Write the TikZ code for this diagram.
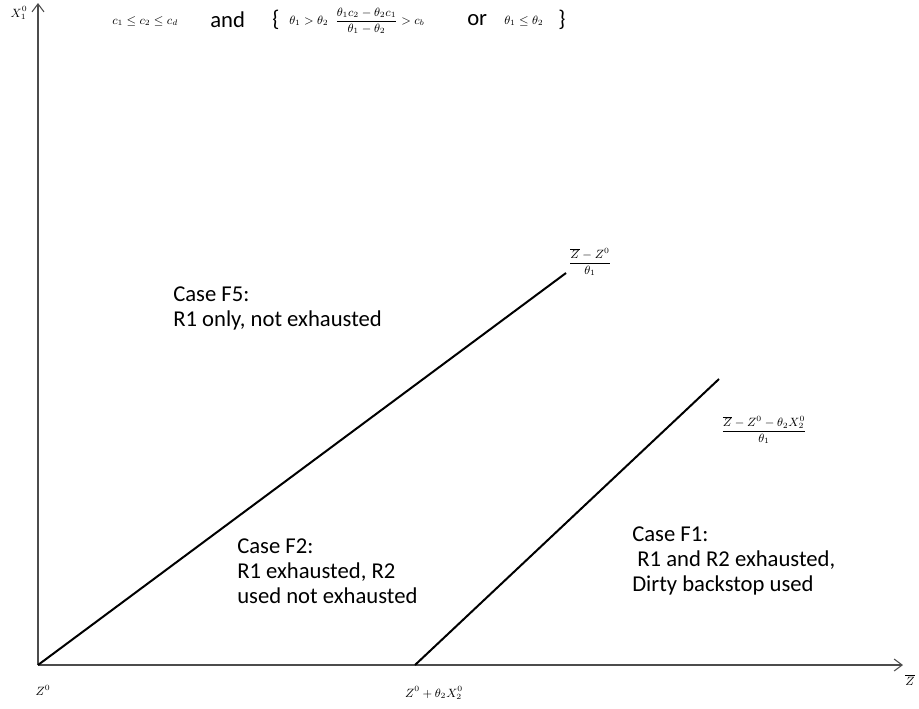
\documentclass[tikz,border=0pt]{standalone}
\usepackage{amsmath,amssymb}
\usepackage{fontspec}
\setmainfont{Carlito}
\usepackage{tikz}
\usetikzlibrary{arrows.meta}

\begin{document}
\begin{tikzpicture}[x=0.75pt,y=-0.75pt,
	every node/.style={font=\fontsize{17}{18.75}\selectfont, inner sep=0pt},
	mathlbl/.style={font=\fontsize{9}{10}\selectfont},
	axisline/.style={black!70, -{Straight Barb[length=6pt,width=9pt]}, line width=0.8pt},
	boundline/.style={black, line width=1.5pt},
	caselbl/.style={align=left, anchor=north west}]
	\useasboundingbox (0,0) rectangle (919,708);
	% axes
	\coordinate (origin) at (38,665);
	\coordinate (ytip) at (38,3);
	\coordinate (xtip) at (903,665);
	\draw[axisline] (origin) -- (ytip);
	\draw[axisline] (origin) -- (xtip);
	\node[mathlbl] (ylbl) at (19,13) {$X_1^0$};
	\node[mathlbl] (xlbl) at (910,680) {$\overline{Z}$};
	\node[mathlbl] (zlbl) at (43,690) {$Z^0$};
	% boundaries
	\coordinate (shift) at (415,665);
	\coordinate (topA) at (566,273);
	\coordinate (topB) at (719,379);
	\draw[boundline] (origin) -- (topA);
	\draw[boundline] (shift) -- (topB);
	\node[mathlbl] (shiftlbl) at (434,693) {$Z^0+\theta_2X_2^0$};
	\node[mathlbl] (topAlbl) at (590,262) {$\dfrac{\overline{Z}-Z^0}{\theta_1}$};
	\node[mathlbl] (topBlbl) at (764,430) {$\dfrac{\overline{Z}-Z^0-\theta_2X_2^0}{\theta_1}$};
	% condition
	\node[mathlbl, anchor=west] (cond1) at (112,21) {$c_1\le c_2\le c_d$};
	\node[anchor=west] (andw) at (210,20) {and};
	\node[anchor=west] (lbrace) at (272,20) {\{};
	\node[mathlbl, anchor=west] (cond2) at (289,21) {$\theta_1>\theta_2\;\;\dfrac{\theta_1c_2-\theta_2c_1}{\theta_1-\theta_2}>c_b$};
	\node[anchor=west] (orw) at (467,20) {or};
	\node[mathlbl, anchor=west] (cond3) at (504,21) {$\theta_1\le\theta_2$};
	\node[anchor=west] (rbrace) at (558,20) {\}};
	% cases
	\node[caselbl] (caseF5) at (173,287) {Case F5:\\R1 only, not exhausted};
	\node[caselbl] (caseF2) at (237,539) {Case F2:\\R1 exhausted, R2\\used not exhausted};
	\node[caselbl] (caseF1) at (632,527) {Case F1:\\\ R1 and R2 exhausted,\\Dirty backstop used};
\end{tikzpicture}
\end{document}
